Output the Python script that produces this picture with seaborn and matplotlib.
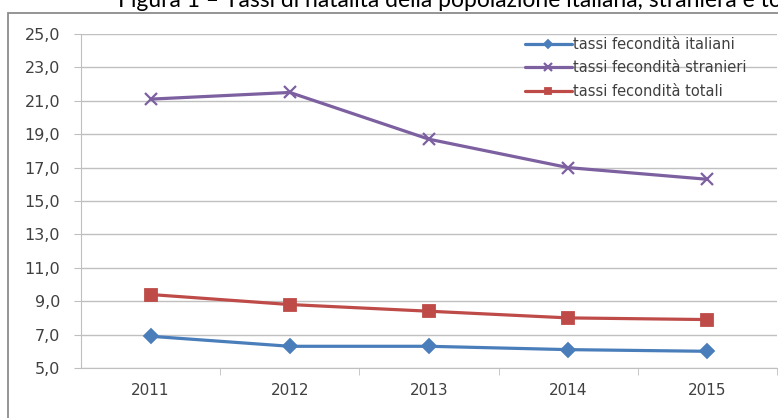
import matplotlib
matplotlib.use("Agg")
import matplotlib.pyplot as plt
from matplotlib.patches import Rectangle
from matplotlib.ticker import FixedLocator, FuncFormatter
import pandas as pd
import seaborn as sns

# data
years = [2011, 2012, 2013, 2014, 2015]
italiani = [6.9, 6.3, 6.3, 6.1, 6.0]
stranieri = [21.1, 21.5, 18.7, 17.0, 16.3]
totali = [9.4, 8.8, 8.4, 8.0, 7.9]
series_names = ["tassi fecondità italiani", "tassi fecondità stranieri", "tassi fecondità totali"]
y_ticks = [5, 7, 9, 11, 13, 15, 17, 19, 21, 23, 25]

series = {series_names[0]: italiani, series_names[1]: stranieri, series_names[2]: totali}
colors = {series_names[0]: "#4A7EBB", series_names[1]: "#7D60A0", series_names[2]: "#BE4B48"}
markers = {series_names[0]: "D", series_names[1]: "x", series_names[2]: "s"}
sizes = {series_names[0]: 7, series_names[1]: 9, series_names[2]: 8}

sns.set_style("white")
plt.rcParams["font.family"] = ["DejaVu Sans"]

fig = plt.figure(figsize=(7.78, 4.18), dpi=100)
ax = fig.add_axes([81 / 778, 1 - 368 / 418, (777 - 81) / 778, (368 - 34) / 418])

for name in series_names:
    df = pd.DataFrame({"anno": years, "valore": series[name]})
    sns.lineplot(data=df, x="anno", y="valore", color=colors[name], marker=markers[name],
                 markersize=sizes[name], markeredgewidth=1.3 if name != series_names[1] else 1.6,
                 markeredgecolor=colors[name], linewidth=2.3, label=name, ax=ax)

ax.set_xlim(years[0] - 0.5, years[-1] + 0.5)
ax.set_ylim(5, 25)
ax.set_yticks(y_ticks)
ax.yaxis.set_major_formatter(FuncFormatter(lambda v, p: f"{v:.1f}".replace(".", ",")))
ax.set_xticks(years)
ax.xaxis.set_minor_locator(FixedLocator([y + 0.5 for y in years]))
ax.tick_params(axis="x", which="major", length=0, pad=11, labelsize=11, colors="#404040")
ax.tick_params(axis="x", which="minor", length=5, direction="out", color="#BFBFBF", bottom=True)
ax.tick_params(axis="y", length=5, direction="out", color="#BFBFBF", pad=10, labelsize=11.5,
               labelcolor="#404040", left=True)
ax.set_xlabel("")
ax.set_ylabel("")

ax.grid(axis="y", color="#C0C0C0", linewidth=1)
ax.set_axisbelow(True)
for side in ["top", "right"]:
    ax.spines[side].set_visible(False)
ax.spines["left"].set_color("#BFBFBF")
ax.spines["bottom"].set_color("#BFBFBF")

handles, labels = ax.get_legend_handles_labels()
ax.legend(handles, labels, loc="upper left", bbox_to_anchor=(522 / 778, 1 - 34 / 418),
          bbox_transform=fig.transFigure, frameon=False, fontsize=10.5, handlelength=3.2,
          handletextpad=0.1, labelspacing=0.58, labelcolor="#404040", markerscale=0.6,
          borderaxespad=0, borderpad=0.2)

# outer chart frame and clipped title
fig.patches.append(Rectangle((8 / 778, -0.1), 1.2, 1 - 13 / 418 + 0.1, transform=fig.transFigure,
                             fill=False, edgecolor="#8C8C8C", linewidth=1.3, zorder=0))
fig.text(118 / 778, 1 - 7 / 418, "Figura 1 – Tassi di natalità della popolazione italiana, straniera e totale",
         fontsize=16.5, ha="left", va="baseline", color="black", family=["Lato", "DejaVu Sans"])

fig.savefig("out.png", dpi=100)
